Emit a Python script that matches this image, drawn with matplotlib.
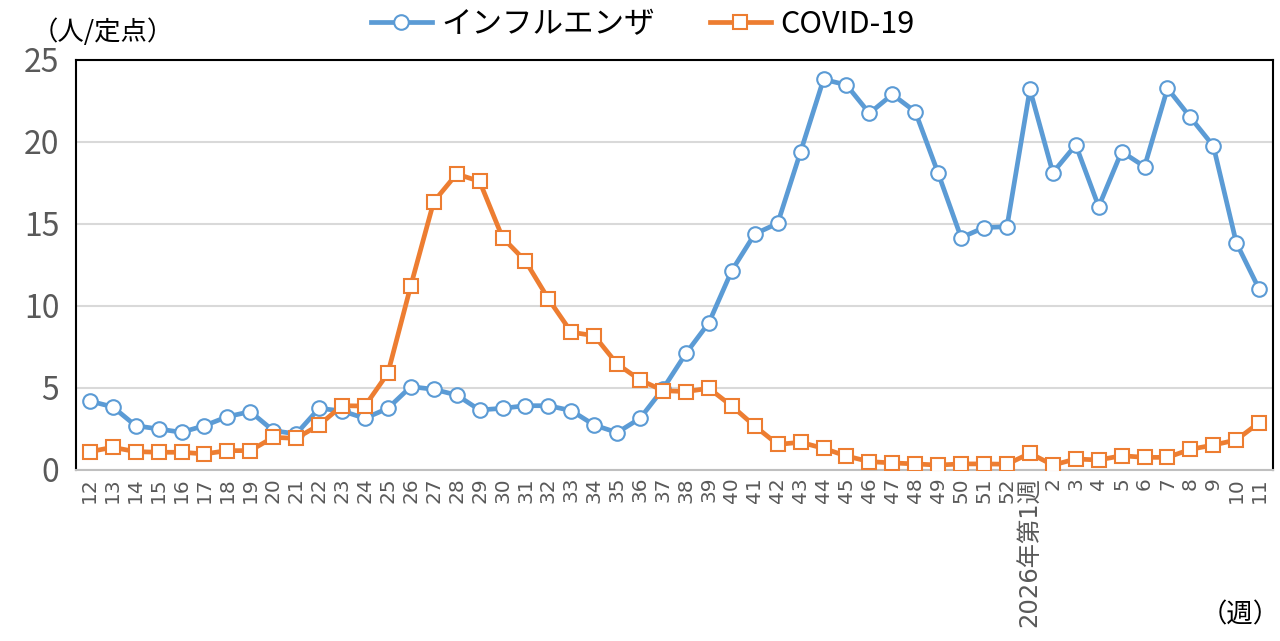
import numpy as np
import matplotlib.pyplot as plt

plt.rcParams['font.family'] = ['Noto Sans CJK JP', 'DejaVu Sans']

# week labels
weeks = [str(w) for w in range(12, 53)] + ["2026年第1週"] + [str(w) for w in range(2, 12)]

# influenza, per sentinel
flu = [4.2, 3.85, 2.7, 2.5, 2.3, 2.7, 3.25, 3.56, 2.4, 2.2,
       3.76, 3.6, 3.15, 3.76, 5.08, 4.92, 4.57, 3.66, 3.76, 3.92,
       3.92, 3.62, 2.74, 2.28, 3.15, 4.95, 7.11, 8.98, 12.16, 14.39,
       15.04, 19.41, 23.82, 23.48, 21.75, 22.9, 21.85, 18.09, 14.17, 14.78,
       14.84, 23.21, 18.13, 19.82, 16.06, 19.41, 18.5, 23.27, 21.5, 19.76,
       13.86, 11.02]

# covid-19, per sentinel
covid = [1.12, 1.38, 1.12, 1.08, 1.08, 0.98, 1.18, 1.18, 1.99, 1.93,
         2.74, 3.92, 3.9, 5.9, 11.24, 16.36, 18.05, 17.6, 14.17, 12.74,
         10.43, 8.4, 8.19, 6.46, 5.49, 4.84, 4.78, 4.98, 3.9, 2.68,
         1.56, 1.69, 1.32, 0.85, 0.51, 0.43, 0.37, 0.3, 0.37, 0.37,
         0.35, 1.02, 0.3, 0.67, 0.61, 0.87, 0.77, 0.77, 1.26, 1.52,
         1.83, 2.89]

x = np.arange(len(weeks))

fig = plt.figure(figsize=(12.8, 6.41), dpi=100)
ax = fig.add_axes([0.0594, 0.2668, 0.9351, 0.6396])

blue = "#5B9BD5"
orange = "#ED7D31"

ax.plot(x, flu, color=blue, lw=3.4, marker="o", ms=10.5, mfc="white",
        mec=blue, mew=1.5, label="インフルエンザ", zorder=3)
ax.plot(x, covid, color=orange, lw=3.4, marker="s", ms=10.5, mfc="white",
        mec=orange, mew=1.5, label="COVID-19", zorder=4)

ax.set_xlim(-0.6, len(weeks) - 0.4)
ax.set_ylim(0, 25)
ax.set_yticks([0, 5, 10, 15, 20, 25])
ax.yaxis.grid(True, color="#d9d9d9", lw=1.5)
ax.set_axisbelow(True)

# x labels: digits in DejaVu (tighter line box), CJK falls back to Noto
ax.set_xticks(x)
ax.set_xticklabels(weeks, rotation=90, fontsize=14.5, color="#595959",
                   family=['DejaVu Sans', 'Noto Sans CJK JP'])
for lab in ax.get_xticklabels():
    if "年" in lab.get_text():
        lab.set_fontsize(17.5)
ax.tick_params(axis="x", length=0, pad=5)
ax.tick_params(axis="y", length=0, pad=12, labelsize=23, labelcolor="#595959")

for s in ["left", "top", "right"]:
    ax.spines[s].set_color("black")
    ax.spines[s].set_linewidth(1.5)
ax.spines["bottom"].set_color("#bfbfbf")
ax.spines["bottom"].set_linewidth(1.5)

fig.text(0.025, 0.95, "（人/定点）", fontsize=19, va="center", ha="left")
fig.text(1.0, 0.04, "（週）", fontsize=19, va="center", ha="right")

fig.legend(loc="center", bbox_to_anchor=(0.502, 0.962), ncol=2, frameon=False,
           fontsize=22, handlelength=2.0, columnspacing=1.8, handletextpad=0.3)

fig.savefig("out.png", dpi=100)
